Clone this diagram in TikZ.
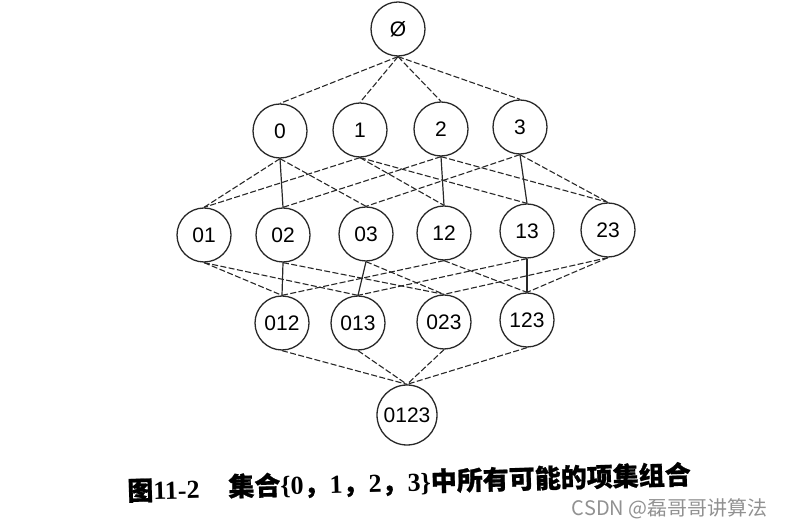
\documentclass[tikz,border=0pt]{standalone}
\usepackage{fontspec}
\setmainfont{Liberation Serif}
\newfontfamily\nodefont{Liberation Sans}
\newfontfamily\cjk{Noto Sans CJK SC}
\newfontfamily\cjkheavy[FakeBold=0.9]{Noto Sans CJK SC}
\usepackage{xcolor}
\definecolor{scanink}{RGB}{40,40,40}
\definecolor{markgray}{RGB}{145,145,145}
\tikzset{
  setnode/.style={circle,draw=scanink,line width=0.65pt,minimum size=27pt,inner sep=0pt,fill=white,
    font=\nodefont\fontsize{10.5}{12}\selectfont},
  subedge/.style={draw=scanink,line width=0.55pt,dash pattern=on 3pt off 1.2pt},
  stemedge/.style={draw=scanink,line width=0.6pt},
  captext/.style={anchor=west,inner sep=0pt,rotate=1.5,font=\bfseries\fontsize{13}{15}\selectfont}
}

\begin{document}
\begin{tikzpicture}[x=0.5pt,y=-0.5pt]
  \useasboundingbox (0,0) rectangle (785,522);
  % level 0 and 1
  \node[setnode] (empty) at (398,29) {Ø};
  \node[setnode] (s0) at (280,131) {0};
  \node[setnode] (s1) at (360,130) {1};
  \node[setnode] (s2) at (441,129) {2};
  \node[setnode] (s3) at (520,127) {3};
  % level 2
  \node[setnode] (s01) at (204,235) {01};
  \node[setnode] (s02) at (283,235) {02};
  \node[setnode] (s03) at (366,234) {03};
  \node[setnode] (s12) at (444,233) {12};
  \node[setnode] (s13) at (527,231) {13};
  \node[setnode] (s23) at (608,230) {23};
  % level 3 and 4
  \node[setnode] (s012) at (282,323) {012};
  \node[setnode] (s013) at (358,323) {013};
  \node[setnode] (s023) at (444,322) {023};
  \node[setnode] (s123) at (527,320) {123};
  \node[setnode,minimum size=30pt] (s0123) at (407,415) {0123};
  \draw[subedge] (empty.south) -- (s0.north);
  \draw[subedge] (empty.south) -- (s1.north);
  \draw[subedge] (empty.south) -- (s2.north);
  \draw[subedge] (empty.south) -- (s3.north);
  \draw[subedge] (s0.south) -- (s01.north);
  \draw[stemedge] (s0.south) -- (s02.north);
  \draw[subedge] (s0.south) -- (s03.north);
  \draw[subedge] (s1.south) -- (s01.north);
  \draw[subedge] (s1.south) -- (s12.north);
  \draw[subedge] (s1.south) -- (s13.north);
  \draw[subedge] (s2.south) -- (s02.north);
  \draw[stemedge] (s2.south) -- (s12.north);
  \draw[subedge] (s2.south) -- (s23.north);
  \draw[subedge] (s3.south) -- (s03.north);
  \draw[stemedge] (s3.south) -- (s13.north);
  \draw[subedge] (s3.south) -- (s23.north);
  \draw[subedge] (s01.south) -- (s012.north);
  \draw[subedge] (s01.south) -- (s013.north);
  \draw[stemedge] (s02.south) -- (s012.north);
  \draw[subedge] (s02.south) -- (s023.north);
  \draw[stemedge] (s03.south) -- (s013.north);
  \draw[subedge] (s03.south) -- (s023.north);
  \draw[subedge] (s12.south) -- (s012.north);
  \draw[subedge] (s12.south) -- (s123.north);
  \draw[subedge] (s13.south) -- (s013.north);
  \draw[stemedge] (s13.south) -- (s123.north);
  \draw[subedge] (s23.south) -- (s023.north);
  \draw[subedge] (s23.south) -- (s123.north);
  \draw[subedge] (s012.south) -- (s0123.north);
  \draw[subedge] (s013.south) -- (s0123.north);
  \draw[subedge] (s023.south) -- (s0123.north);
  \draw[subedge] (s123.south) -- (s0123.north);
  % caption and watermark
  \node[captext] (capnum) at (127,491) {{\cjkheavy 图}11-2};
  \node[captext] (captitle) at (228,487)
    {{\cjkheavy 集合}\{0{\cjkheavy ，}1{\cjkheavy ，}2{\cjkheavy ，}3\}{\cjkheavy 中所有可能的项集组合}};
  \node[anchor=east,inner sep=0pt,text=markgray,font=\cjk\fontsize{10}{12}\selectfont] (mark) at (768,509)
    {CSDN @磊哥哥讲算法};
\end{tikzpicture}
\end{document}
